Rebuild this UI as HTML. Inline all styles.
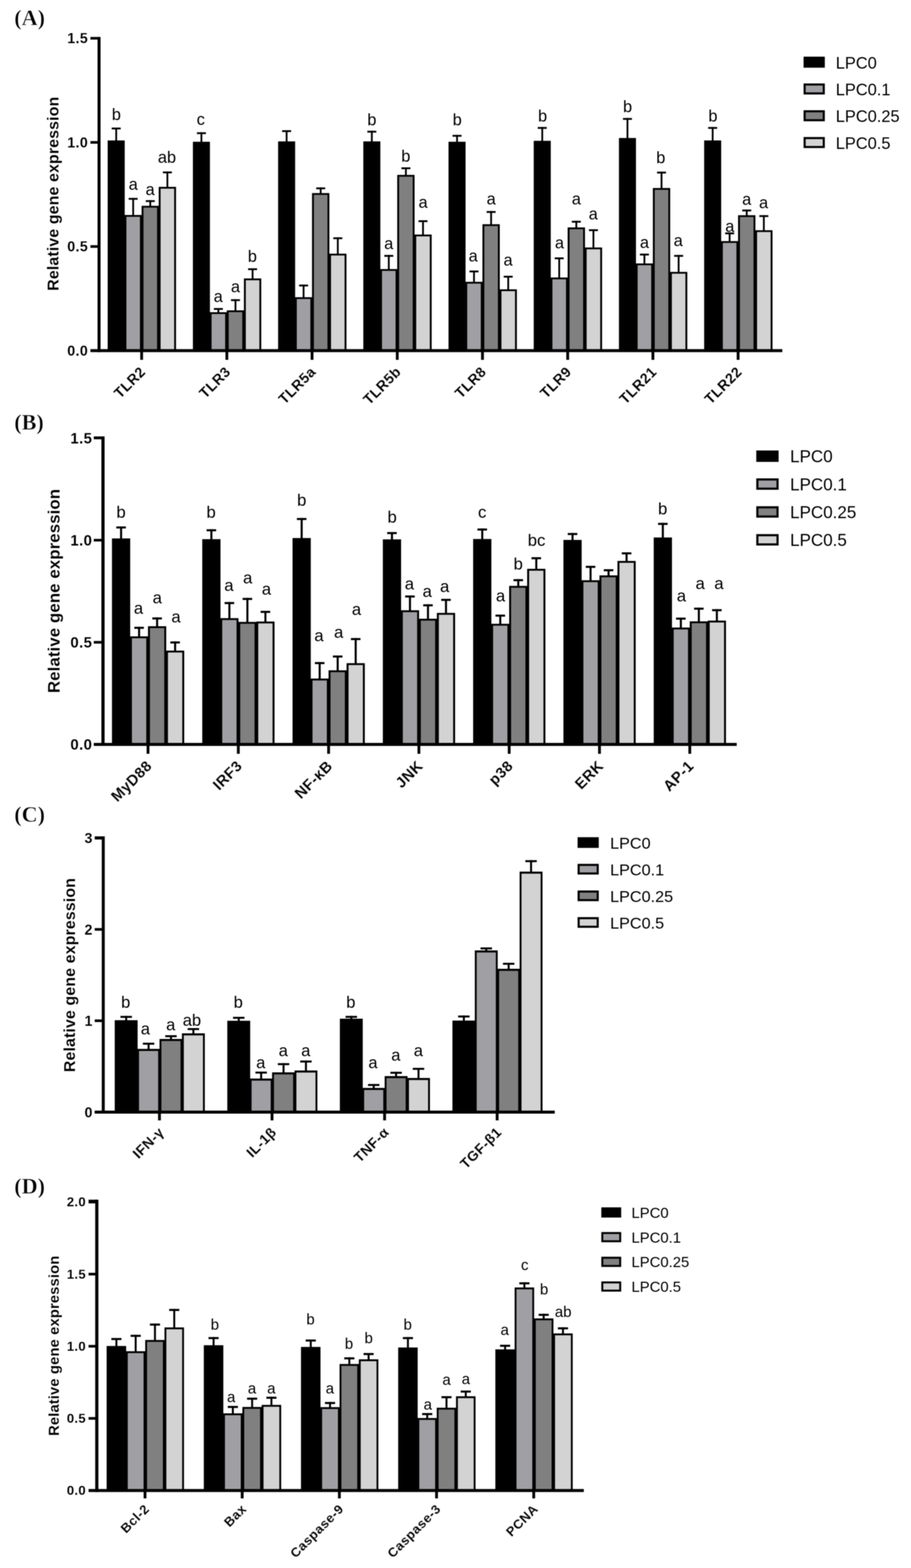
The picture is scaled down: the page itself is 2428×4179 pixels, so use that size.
<!DOCTYPE html>
<html lang="en">
<head>
<meta charset="utf-8">
<title>Relative gene expression - LPC panels A-D</title>
<style>
html,body{margin:0;padding:0;background:#fff;}
body{width:2428px;height:4179px;}
svg{display:block;}
.panel{filter:blur(0.8px);}
text{fill:#000;font-family:"Liberation Sans",sans-serif;}
.bold,.bold text{font-weight:700;stroke:#fff;stroke-width:0.25px;paint-order:fill stroke;}
.reg,.reg text{font-weight:400;stroke:none;}
.tag{font-family:"Liberation Serif",serif;font-weight:700;stroke:#fff;stroke-width:1px;paint-order:fill stroke;}
rect{fill:#000;}
rect.f1{fill:#a0a0a4;}
rect.f2{fill:#808080;}
rect.f3{fill:#d3d3d3;}
</style>
</head>
<body>
<svg width="2428" height="4179" viewBox="0 0 2428 4179">
<rect x="0" y="0" width="2428" height="4179" style="fill:#fff"/>
<g class="panel" id="panel-A">
<text class="tag" x="38" y="67" font-size="59">(A)</text>
<g class="bars">
<rect x="307.3" y="340" width="4.8" height="35.3"/>
<rect x="297.7" y="340" width="24" height="4.9"/>
<rect x="287" y="374.3" width="45.4" height="560.2"/>
<rect x="352.5" y="527.5" width="4.8" height="46.5"/>
<rect x="342.9" y="527.5" width="24" height="4.9"/>
<rect x="331.8" y="573" width="46.2" height="361.5"/>
<rect x="336.8" y="577.8" width="36.2" height="356.7" class="f1"/>
<rect x="398.1" y="533.5" width="4.8" height="16"/>
<rect x="388.5" y="533.5" width="24" height="4.9"/>
<rect x="377.4" y="548.5" width="46.2" height="386"/>
<rect x="382.4" y="553.3" width="36.2" height="381.2" class="f2"/>
<rect x="443.7" y="457" width="4.8" height="42"/>
<rect x="434.1" y="457" width="24" height="4.9"/>
<rect x="423" y="498" width="46.2" height="436.5"/>
<rect x="428" y="502.8" width="36.2" height="431.7" class="f3"/>
<rect x="534.4" y="352.5" width="4.8" height="26.3"/>
<rect x="524.8" y="352.5" width="24" height="4.9"/>
<rect x="514.1" y="377.8" width="45.4" height="556.7"/>
<rect x="579.6" y="821" width="4.8" height="12.1"/>
<rect x="570" y="821" width="24" height="4.9"/>
<rect x="558.9" y="832.1" width="46.2" height="102.4"/>
<rect x="563.9" y="836.9" width="36.2" height="97.6" class="f1"/>
<rect x="625.2" y="797.5" width="4.8" height="30.6"/>
<rect x="615.6" y="797.5" width="24" height="4.9"/>
<rect x="604.5" y="827.1" width="46.2" height="107.4"/>
<rect x="609.5" y="831.9" width="36.2" height="102.6" class="f2"/>
<rect x="670.8" y="715" width="4.8" height="28.1"/>
<rect x="661.2" y="715" width="24" height="4.9"/>
<rect x="650.1" y="742.1" width="46.2" height="192.4"/>
<rect x="655.1" y="746.9" width="36.2" height="187.6" class="f3"/>
<rect x="761.5" y="347" width="4.8" height="30.8"/>
<rect x="751.9" y="347" width="24" height="4.9"/>
<rect x="741.2" y="376.8" width="45.4" height="557.7"/>
<rect x="806.7" y="758.5" width="4.8" height="34.6"/>
<rect x="797.1" y="758.5" width="24" height="4.9"/>
<rect x="786" y="792.1" width="46.2" height="142.4"/>
<rect x="791" y="796.9" width="36.2" height="137.6" class="f1"/>
<rect x="852.3" y="499.5" width="4.8" height="16.1"/>
<rect x="842.7" y="499.5" width="24" height="4.9"/>
<rect x="831.6" y="514.6" width="46.2" height="419.9"/>
<rect x="836.6" y="519.4" width="36.2" height="415.1" class="f2"/>
<rect x="897.9" y="632.5" width="4.8" height="44.6"/>
<rect x="888.3" y="632.5" width="24" height="4.9"/>
<rect x="877.2" y="676.1" width="46.2" height="258.4"/>
<rect x="882.2" y="680.9" width="36.2" height="253.6" class="f3"/>
<rect x="988.6" y="348.5" width="4.8" height="29.3"/>
<rect x="979" y="348.5" width="24" height="4.9"/>
<rect x="968.3" y="376.8" width="45.4" height="557.7"/>
<rect x="1033.8" y="679.5" width="4.8" height="38.6"/>
<rect x="1024.2" y="679.5" width="24" height="4.9"/>
<rect x="1013.1" y="717.1" width="46.2" height="217.4"/>
<rect x="1018.1" y="721.9" width="36.2" height="212.6" class="f1"/>
<rect x="1079.4" y="446" width="4.8" height="21.1"/>
<rect x="1069.8" y="446" width="24" height="4.9"/>
<rect x="1058.7" y="466.1" width="46.2" height="468.4"/>
<rect x="1063.7" y="470.9" width="36.2" height="463.6" class="f2"/>
<rect x="1125" y="587" width="4.8" height="39.1"/>
<rect x="1115.4" y="587" width="24" height="4.9"/>
<rect x="1104.3" y="625.1" width="46.2" height="309.4"/>
<rect x="1109.3" y="629.9" width="36.2" height="304.6" class="f3"/>
<rect x="1215.7" y="359.5" width="4.8" height="19.3"/>
<rect x="1206.1" y="359.5" width="24" height="4.9"/>
<rect x="1195.4" y="377.8" width="45.4" height="556.7"/>
<rect x="1260.9" y="721" width="4.8" height="31.1"/>
<rect x="1251.3" y="721" width="24" height="4.9"/>
<rect x="1240.2" y="751.1" width="46.2" height="183.4"/>
<rect x="1245.2" y="755.9" width="36.2" height="178.6" class="f1"/>
<rect x="1306.5" y="562.5" width="4.8" height="36.1"/>
<rect x="1296.9" y="562.5" width="24" height="4.9"/>
<rect x="1285.8" y="597.6" width="46.2" height="336.9"/>
<rect x="1290.8" y="602.4" width="36.2" height="332.1" class="f2"/>
<rect x="1352.1" y="735" width="4.8" height="37.1"/>
<rect x="1342.5" y="735" width="24" height="4.9"/>
<rect x="1331.4" y="771.1" width="46.2" height="163.4"/>
<rect x="1336.4" y="775.9" width="36.2" height="158.6" class="f3"/>
<rect x="1442.8" y="338.5" width="4.8" height="37.8"/>
<rect x="1433.2" y="338.5" width="24" height="4.9"/>
<rect x="1422.5" y="375.3" width="45.4" height="559.2"/>
<rect x="1488" y="686" width="4.8" height="54.6"/>
<rect x="1478.4" y="686" width="24" height="4.9"/>
<rect x="1467.3" y="739.6" width="46.2" height="194.9"/>
<rect x="1472.3" y="744.4" width="36.2" height="190.1" class="f1"/>
<rect x="1533.6" y="588.5" width="4.8" height="18.6"/>
<rect x="1524" y="588.5" width="24" height="4.9"/>
<rect x="1512.9" y="606.1" width="46.2" height="328.4"/>
<rect x="1517.9" y="610.9" width="36.2" height="323.6" class="f2"/>
<rect x="1579.2" y="611" width="4.8" height="49.6"/>
<rect x="1569.6" y="611" width="24" height="4.9"/>
<rect x="1558.5" y="659.6" width="46.2" height="274.9"/>
<rect x="1563.5" y="664.4" width="36.2" height="270.1" class="f3"/>
<rect x="1669.9" y="314.5" width="4.8" height="54.3"/>
<rect x="1660.3" y="314.5" width="24" height="4.9"/>
<rect x="1649.6" y="367.8" width="45.4" height="566.7"/>
<rect x="1715.1" y="676" width="4.8" height="27.1"/>
<rect x="1705.5" y="676" width="24" height="4.9"/>
<rect x="1694.4" y="702.1" width="46.2" height="232.4"/>
<rect x="1699.4" y="706.9" width="36.2" height="227.6" class="f1"/>
<rect x="1760.7" y="457.5" width="4.8" height="44.6"/>
<rect x="1751.1" y="457.5" width="24" height="4.9"/>
<rect x="1740" y="501.1" width="46.2" height="433.4"/>
<rect x="1745" y="505.9" width="36.2" height="428.6" class="f2"/>
<rect x="1806.3" y="679.5" width="4.8" height="46.1"/>
<rect x="1796.7" y="679.5" width="24" height="4.9"/>
<rect x="1785.6" y="724.6" width="46.2" height="209.9"/>
<rect x="1790.6" y="729.4" width="36.2" height="205.1" class="f3"/>
<rect x="1897" y="338.5" width="4.8" height="36.8"/>
<rect x="1887.4" y="338.5" width="24" height="4.9"/>
<rect x="1876.7" y="374.3" width="45.4" height="560.2"/>
<rect x="1942.2" y="619.5" width="4.8" height="24.1"/>
<rect x="1932.6" y="619.5" width="24" height="4.9"/>
<rect x="1921.5" y="642.6" width="46.2" height="291.9"/>
<rect x="1926.5" y="647.4" width="36.2" height="287.1" class="f1"/>
<rect x="1987.8" y="558.5" width="4.8" height="16.1"/>
<rect x="1978.2" y="558.5" width="24" height="4.9"/>
<rect x="1967.1" y="573.6" width="46.2" height="360.9"/>
<rect x="1972.1" y="578.4" width="36.2" height="356.1" class="f2"/>
<rect x="2033.4" y="573.5" width="4.8" height="41.1"/>
<rect x="2023.8" y="573.5" width="24" height="4.9"/>
<rect x="2012.7" y="613.6" width="46.2" height="320.9"/>
<rect x="2017.7" y="618.4" width="36.2" height="316.1" class="f3"/>
</g>
<g class="axes">
<rect x="260" y="98.5" width="8" height="840"/>
<rect x="241" y="930.5" width="1844" height="8"/>
<rect x="241" y="931" width="23" height="7"/>
<rect x="241" y="653.5" width="23" height="7"/>
<rect x="241" y="376" width="23" height="7"/>
<rect x="241" y="98.5" width="23" height="7"/>
<rect x="373.75" y="934.5" width="7.5" height="24.5"/>
<rect x="600.85" y="934.5" width="7.5" height="24.5"/>
<rect x="827.95" y="934.5" width="7.5" height="24.5"/>
<rect x="1055.05" y="934.5" width="7.5" height="24.5"/>
<rect x="1282.15" y="934.5" width="7.5" height="24.5"/>
<rect x="1509.25" y="934.5" width="7.5" height="24.5"/>
<rect x="1736.35" y="934.5" width="7.5" height="24.5"/>
<rect x="1963.45" y="934.5" width="7.5" height="24.5"/>
</g>
<g class="bold" font-size="38" text-anchor="end" letter-spacing="1">
<text x="235" y="947.5">0.0</text>
<text x="235" y="670">0.5</text>
<text x="235" y="392.5">1.0</text>
<text x="235" y="115">1.5</text>
</g>
<text class="bold" font-size="42.5" text-anchor="middle" letter-spacing="0.3" transform="translate(155.5 516.3) rotate(-90)">Relative gene expression</text>
<g class="bold xl" font-size="38" text-anchor="end" letter-spacing="1">
<text transform="translate(390 993.5) rotate(-45)">TLR2</text>
<text transform="translate(617.1 993.5) rotate(-45)">TLR3</text>
<text transform="translate(844.2 993.5) rotate(-45)">TLR5a</text>
<text transform="translate(1071.3 993.5) rotate(-45)">TLR5b</text>
<text transform="translate(1298.4 993.5) rotate(-45)">TLR8</text>
<text transform="translate(1525.5 993.5) rotate(-45)">TLR9</text>
<text transform="translate(1752.6 993.5) rotate(-45)">TLR21</text>
<text transform="translate(1979.7 993.5) rotate(-45)">TLR22</text>
</g>
<g class="reg" font-size="43.5" text-anchor="middle">
<text x="310" y="320">b</text>
<text x="355" y="505.5">a</text>
<text x="400" y="520">a</text>
<text x="445" y="434">ab</text>
<text x="535" y="332.5">c</text>
<text x="581.5" y="805">a</text>
<text x="627.5" y="778.5">a</text>
<text x="672.5" y="697.5">b</text>
<text x="991" y="333.5">b</text>
<text x="1036" y="663.5">a</text>
<text x="1081.5" y="431">b</text>
<text x="1127.5" y="554">a</text>
<text x="1218.5" y="333.5">b</text>
<text x="1261" y="696.5">a</text>
<text x="1309" y="545">a</text>
<text x="1354" y="707.5">a</text>
<text x="1446" y="324">b</text>
<text x="1491" y="661.5">a</text>
<text x="1536" y="545">a</text>
<text x="1581" y="585">a</text>
<text x="1672.5" y="298.5">b</text>
<text x="1717.5" y="661">a</text>
<text x="1761" y="435">b</text>
<text x="1807.5" y="656">a</text>
<text x="1900" y="323.5">b</text>
<text x="1945" y="617.5">a</text>
<text x="1990" y="546">a</text>
<text x="2035" y="555">a</text>
</g>
<g class="legend reg" font-size="43.7">
<rect x="2141.7" y="151" width="56.6" height="29.4"/>
<text x="2227.5" y="182.5">LPC0</text>
<rect x="2141.7" y="222.4" width="56.6" height="29.4"/>
<rect x="2147.3" y="228" width="45.4" height="18.2" class="f1"/>
<text x="2227.5" y="253.9">LPC0.1</text>
<rect x="2141.7" y="293.8" width="56.6" height="29.4"/>
<rect x="2147.3" y="299.4" width="45.4" height="18.2" class="f2"/>
<text x="2227.5" y="325.3">LPC0.25</text>
<rect x="2141.7" y="365.2" width="56.6" height="29.4"/>
<rect x="2147.3" y="370.8" width="45.4" height="18.2" class="f3"/>
<text x="2227.5" y="396.7">LPC0.5</text>
</g>
</g>
<g class="panel" id="panel-B">
<text class="tag" x="38" y="1145" font-size="59">(B)</text>
<g class="bars">
<rect x="319.95" y="1403" width="5.5" height="33"/>
<rect x="309.95" y="1403" width="25.5" height="5.5"/>
<rect x="298.4" y="1435" width="48.6" height="549"/>
<rect x="367.95" y="1670.5" width="5.5" height="26.5"/>
<rect x="357.95" y="1670.5" width="25.5" height="5.5"/>
<rect x="346.4" y="1696" width="48.6" height="288"/>
<rect x="351.6" y="1701" width="38.2" height="283" class="f1"/>
<rect x="415.95" y="1645.5" width="5.5" height="24.5"/>
<rect x="405.95" y="1645.5" width="25.5" height="5.5"/>
<rect x="394.4" y="1669" width="48.6" height="315"/>
<rect x="399.6" y="1674" width="38.2" height="310" class="f2"/>
<rect x="463.95" y="1709.5" width="5.5" height="25.5"/>
<rect x="453.95" y="1709.5" width="25.5" height="5.5"/>
<rect x="442.4" y="1734" width="48.6" height="250"/>
<rect x="447.6" y="1739" width="38.2" height="245" class="f3"/>
<rect x="560.6" y="1410.5" width="5.5" height="27.5"/>
<rect x="550.6" y="1410.5" width="25.5" height="5.5"/>
<rect x="539.05" y="1437" width="48.6" height="547"/>
<rect x="608.6" y="1604.5" width="5.5" height="44"/>
<rect x="598.6" y="1604.5" width="25.5" height="5.5"/>
<rect x="587.05" y="1647.5" width="48.6" height="336.5"/>
<rect x="592.25" y="1652.5" width="38.2" height="331.5" class="f1"/>
<rect x="656.6" y="1593.5" width="5.5" height="65"/>
<rect x="646.6" y="1593.5" width="25.5" height="5.5"/>
<rect x="635.05" y="1657.5" width="48.6" height="326.5"/>
<rect x="640.25" y="1662.5" width="38.2" height="321.5" class="f2"/>
<rect x="704.6" y="1628" width="5.5" height="29.5"/>
<rect x="694.6" y="1628" width="25.5" height="5.5"/>
<rect x="683.05" y="1656.5" width="48.6" height="327.5"/>
<rect x="688.25" y="1661.5" width="38.2" height="322.5" class="f3"/>
<rect x="801.25" y="1380.5" width="5.5" height="54.5"/>
<rect x="791.25" y="1380.5" width="25.5" height="5.5"/>
<rect x="779.7" y="1434" width="48.6" height="550"/>
<rect x="849.25" y="1764.5" width="5.5" height="45"/>
<rect x="839.25" y="1764.5" width="25.5" height="5.5"/>
<rect x="827.7" y="1808.5" width="48.6" height="175.5"/>
<rect x="832.9" y="1813.5" width="38.2" height="170.5" class="f1"/>
<rect x="897.25" y="1747" width="5.5" height="40.5"/>
<rect x="887.25" y="1747" width="25.5" height="5.5"/>
<rect x="875.7" y="1786.5" width="48.6" height="197.5"/>
<rect x="880.9" y="1791.5" width="38.2" height="192.5" class="f2"/>
<rect x="945.25" y="1700.5" width="5.5" height="68"/>
<rect x="935.25" y="1700.5" width="25.5" height="5.5"/>
<rect x="923.7" y="1767.5" width="48.6" height="216.5"/>
<rect x="928.9" y="1772.5" width="38.2" height="211.5" class="f3"/>
<rect x="1041.9" y="1418" width="5.5" height="20.5"/>
<rect x="1031.9" y="1418" width="25.5" height="5.5"/>
<rect x="1020.35" y="1437.5" width="48.6" height="546.5"/>
<rect x="1089.9" y="1587" width="5.5" height="40.5"/>
<rect x="1079.9" y="1587" width="25.5" height="5.5"/>
<rect x="1068.35" y="1626.5" width="48.6" height="357.5"/>
<rect x="1073.55" y="1631.5" width="38.2" height="352.5" class="f1"/>
<rect x="1137.9" y="1610.5" width="5.5" height="39.5"/>
<rect x="1127.9" y="1610.5" width="25.5" height="5.5"/>
<rect x="1116.35" y="1649" width="48.6" height="335"/>
<rect x="1121.55" y="1654" width="38.2" height="330" class="f2"/>
<rect x="1185.9" y="1596" width="5.5" height="38.5"/>
<rect x="1175.9" y="1596" width="25.5" height="5.5"/>
<rect x="1164.35" y="1633.5" width="48.6" height="350.5"/>
<rect x="1169.55" y="1638.5" width="38.2" height="345.5" class="f3"/>
<rect x="1282.55" y="1408.5" width="5.5" height="29"/>
<rect x="1272.55" y="1408.5" width="25.5" height="5.5"/>
<rect x="1261" y="1436.5" width="48.6" height="547.5"/>
<rect x="1330.55" y="1638" width="5.5" height="25.5"/>
<rect x="1320.55" y="1638" width="25.5" height="5.5"/>
<rect x="1309" y="1662.5" width="48.6" height="321.5"/>
<rect x="1314.2" y="1667.5" width="38.2" height="316.5" class="f1"/>
<rect x="1378.55" y="1543.5" width="5.5" height="19"/>
<rect x="1368.55" y="1543.5" width="25.5" height="5.5"/>
<rect x="1357" y="1561.5" width="48.6" height="422.5"/>
<rect x="1362.2" y="1566.5" width="38.2" height="417.5" class="f2"/>
<rect x="1426.55" y="1485" width="5.5" height="32"/>
<rect x="1416.55" y="1485" width="25.5" height="5.5"/>
<rect x="1405" y="1516" width="48.6" height="468"/>
<rect x="1410.2" y="1521" width="38.2" height="463" class="f3"/>
<rect x="1523.2" y="1420.5" width="5.5" height="19.5"/>
<rect x="1513.2" y="1420.5" width="25.5" height="5.5"/>
<rect x="1501.65" y="1439" width="48.6" height="545"/>
<rect x="1571.2" y="1508" width="5.5" height="39.5"/>
<rect x="1561.2" y="1508" width="25.5" height="5.5"/>
<rect x="1549.65" y="1546.5" width="48.6" height="437.5"/>
<rect x="1554.85" y="1551.5" width="38.2" height="432.5" class="f1"/>
<rect x="1619.2" y="1517" width="5.5" height="17.5"/>
<rect x="1609.2" y="1517" width="25.5" height="5.5"/>
<rect x="1597.65" y="1533.5" width="48.6" height="450.5"/>
<rect x="1602.85" y="1538.5" width="38.2" height="445.5" class="f2"/>
<rect x="1667.2" y="1472" width="5.5" height="24"/>
<rect x="1657.2" y="1472" width="25.5" height="5.5"/>
<rect x="1645.65" y="1495" width="48.6" height="489"/>
<rect x="1650.85" y="1500" width="38.2" height="484" class="f3"/>
<rect x="1763.85" y="1393.5" width="5.5" height="40"/>
<rect x="1753.85" y="1393.5" width="25.5" height="5.5"/>
<rect x="1742.3" y="1432.5" width="48.6" height="551.5"/>
<rect x="1811.85" y="1646" width="5.5" height="27.5"/>
<rect x="1801.85" y="1646" width="25.5" height="5.5"/>
<rect x="1790.3" y="1672.5" width="48.6" height="311.5"/>
<rect x="1795.5" y="1677.5" width="38.2" height="306.5" class="f1"/>
<rect x="1859.85" y="1619.5" width="5.5" height="37.5"/>
<rect x="1849.85" y="1619.5" width="25.5" height="5.5"/>
<rect x="1838.3" y="1656" width="48.6" height="328"/>
<rect x="1843.5" y="1661" width="38.2" height="323" class="f2"/>
<rect x="1907.85" y="1623.5" width="5.5" height="31.5"/>
<rect x="1897.85" y="1623.5" width="25.5" height="5.5"/>
<rect x="1886.3" y="1654" width="48.6" height="330"/>
<rect x="1891.5" y="1659" width="38.2" height="325" class="f3"/>
</g>
<g class="axes">
<rect x="270.25" y="1163.15" width="8.5" height="824.85"/>
<rect x="250" y="1980" width="1713.5" height="8"/>
<rect x="250" y="1980.5" width="24.5" height="7"/>
<rect x="250" y="1708.35" width="24.5" height="7"/>
<rect x="250" y="1436.2" width="24.5" height="7"/>
<rect x="250" y="1163.15" width="24.5" height="7.6"/>
<rect x="390.75" y="1984" width="7.5" height="25"/>
<rect x="631.4" y="1984" width="7.5" height="25"/>
<rect x="872.05" y="1984" width="7.5" height="25"/>
<rect x="1112.7" y="1984" width="7.5" height="25"/>
<rect x="1353.35" y="1984" width="7.5" height="25"/>
<rect x="1594" y="1984" width="7.5" height="25"/>
<rect x="1834.65" y="1984" width="7.5" height="25"/>
</g>
<g class="bold" font-size="40" text-anchor="end" letter-spacing="1">
<text x="246" y="1998.3">0.0</text>
<text x="246" y="1726.15">0.5</text>
<text x="246" y="1454">1.0</text>
<text x="246" y="1181.85">1.5</text>
</g>
<text class="bold" font-size="44.7" text-anchor="middle" letter-spacing="0.32" transform="translate(158.5 1575) rotate(-90)">Relative gene expression</text>
<g class="bold xl" font-size="40" text-anchor="end" letter-spacing="1">
<text transform="translate(407.5 2044) rotate(-45)">MyD88</text>
<text transform="translate(648.15 2044) rotate(-45)">IRF3</text>
<text transform="translate(888.8 2044) rotate(-45)">NF-κB</text>
<text transform="translate(1129.45 2044) rotate(-45)">JNK</text>
<text transform="translate(1370.1 2044) rotate(-45)">p38</text>
<text transform="translate(1610.75 2044) rotate(-45)">ERK</text>
<text transform="translate(1851.4 2044) rotate(-45)">AP-1</text>
</g>
<g class="reg" font-size="44.5" text-anchor="middle">
<text x="322.5" y="1380">b</text>
<text x="369" y="1636">a</text>
<text x="419" y="1607.5">a</text>
<text x="469" y="1659">a</text>
<text x="562.5" y="1380">b</text>
<text x="610" y="1575">a</text>
<text x="660" y="1555">a</text>
<text x="710" y="1585">a</text>
<text x="804" y="1347.5">b</text>
<text x="850" y="1709">a</text>
<text x="902.5" y="1700">a</text>
<text x="950" y="1639">a</text>
<text x="1045" y="1392.5">b</text>
<text x="1091" y="1571">a</text>
<text x="1138.5" y="1591">a</text>
<text x="1185" y="1577.5">a</text>
<text x="1285" y="1380">c</text>
<text x="1334" y="1602.5">a</text>
<text x="1381" y="1517.5">b</text>
<text x="1430" y="1455">bc</text>
<text x="1766" y="1371">b</text>
<text x="1816" y="1602.5">a</text>
<text x="1866" y="1570">a</text>
<text x="1916" y="1570">a</text>
</g>
<g class="legend reg" font-size="45.3">
<rect x="2015.6" y="1200.6" width="59.6" height="30.4"/>
<text x="2105.8" y="1232.3">LPC0</text>
<rect x="2015.6" y="1274.9" width="59.6" height="30.4"/>
<rect x="2021.4" y="1280.7" width="48" height="18.8" class="f1"/>
<text x="2105.8" y="1306.6">LPC0.1</text>
<rect x="2015.6" y="1349.2" width="59.6" height="30.4"/>
<rect x="2021.4" y="1355" width="48" height="18.8" class="f2"/>
<text x="2105.8" y="1380.9">LPC0.25</text>
<rect x="2015.6" y="1423.5" width="59.6" height="30.4"/>
<rect x="2021.4" y="1429.3" width="48" height="18.8" class="f3"/>
<text x="2105.8" y="1455.2">LPC0.5</text>
</g>
</g>
<g class="panel" id="panel-C">
<text class="tag" x="38" y="2190" font-size="59">(C)</text>
<g class="bars">
<rect x="333.65" y="2707.5" width="5.3" height="12.5"/>
<rect x="321.05" y="2707.5" width="30.5" height="5.3"/>
<rect x="305.8" y="2719" width="61" height="245"/>
<rect x="393.35" y="2779" width="5.3" height="17.5"/>
<rect x="380.75" y="2779" width="30.5" height="5.3"/>
<rect x="365.5" y="2795.5" width="61" height="168.5"/>
<rect x="370.5" y="2801" width="51" height="163" class="f1"/>
<rect x="453.05" y="2759" width="5.3" height="11"/>
<rect x="440.45" y="2759" width="30.5" height="5.3"/>
<rect x="425.2" y="2769" width="61" height="195"/>
<rect x="430.2" y="2774.5" width="51" height="189.5" class="f2"/>
<rect x="512.75" y="2740" width="5.3" height="15"/>
<rect x="500.15" y="2740" width="30.5" height="5.3"/>
<rect x="484.9" y="2754" width="61" height="210"/>
<rect x="489.9" y="2759.5" width="51" height="204.5" class="f3"/>
<rect x="633.65" y="2710" width="5.3" height="11.5"/>
<rect x="621.05" y="2710" width="30.5" height="5.3"/>
<rect x="605.8" y="2720.5" width="61" height="243.5"/>
<rect x="693.35" y="2856" width="5.3" height="19.5"/>
<rect x="680.75" y="2856" width="30.5" height="5.3"/>
<rect x="665.5" y="2874.5" width="61" height="89.5"/>
<rect x="670.5" y="2880" width="51" height="84" class="f1"/>
<rect x="753.05" y="2833.5" width="5.3" height="25.5"/>
<rect x="740.45" y="2833.5" width="30.5" height="5.3"/>
<rect x="725.2" y="2858" width="61" height="106"/>
<rect x="730.2" y="2863.5" width="51" height="100.5" class="f2"/>
<rect x="812.75" y="2826.5" width="5.3" height="27.5"/>
<rect x="800.15" y="2826.5" width="30.5" height="5.3"/>
<rect x="784.9" y="2853" width="61" height="111"/>
<rect x="789.9" y="2858.5" width="51" height="105.5" class="f3"/>
<rect x="933.65" y="2707.5" width="5.3" height="8.5"/>
<rect x="921.05" y="2707.5" width="30.5" height="5.3"/>
<rect x="905.8" y="2715" width="61" height="249"/>
<rect x="993.35" y="2889" width="5.3" height="11.5"/>
<rect x="980.75" y="2889" width="30.5" height="5.3"/>
<rect x="965.5" y="2899.5" width="61" height="64.5"/>
<rect x="970.5" y="2905" width="51" height="59" class="f1"/>
<rect x="1053.05" y="2856.5" width="5.3" height="12.5"/>
<rect x="1040.45" y="2856.5" width="30.5" height="5.3"/>
<rect x="1025.2" y="2868" width="61" height="96"/>
<rect x="1030.2" y="2873.5" width="51" height="90.5" class="f2"/>
<rect x="1112.75" y="2846" width="5.3" height="28"/>
<rect x="1100.15" y="2846" width="30.5" height="5.3"/>
<rect x="1084.9" y="2873" width="61" height="91"/>
<rect x="1089.9" y="2878.5" width="51" height="85.5" class="f3"/>
<rect x="1233.65" y="2706.5" width="5.3" height="14.5"/>
<rect x="1221.05" y="2706.5" width="30.5" height="5.3"/>
<rect x="1205.8" y="2720" width="61" height="244"/>
<rect x="1293.35" y="2525" width="5.3" height="9"/>
<rect x="1280.75" y="2525" width="30.5" height="5.3"/>
<rect x="1265.5" y="2533" width="61" height="431"/>
<rect x="1270.5" y="2538.5" width="51" height="425.5" class="f1"/>
<rect x="1353.05" y="2566" width="5.3" height="17"/>
<rect x="1340.45" y="2566" width="30.5" height="5.3"/>
<rect x="1325.2" y="2582" width="61" height="382"/>
<rect x="1330.2" y="2587.5" width="51" height="376.5" class="f2"/>
<rect x="1412.75" y="2292.5" width="5.3" height="31.5"/>
<rect x="1400.15" y="2292.5" width="30.5" height="5.3"/>
<rect x="1384.9" y="2323" width="61" height="641"/>
<rect x="1389.9" y="2328.5" width="51" height="635.5" class="f3"/>
</g>
<g class="axes">
<rect x="271.2" y="2229" width="8" height="739"/>
<rect x="252.5" y="2960" width="1226" height="8"/>
<rect x="252.5" y="2960.5" width="22.7" height="7"/>
<rect x="252.5" y="2717" width="22.7" height="7"/>
<rect x="252.5" y="2473.5" width="22.7" height="7"/>
<rect x="252.5" y="2229" width="22.7" height="8.4"/>
<rect x="421.25" y="2964" width="7.5" height="22"/>
<rect x="721.25" y="2964" width="7.5" height="22"/>
<rect x="1021.25" y="2964" width="7.5" height="22"/>
<rect x="1321.25" y="2964" width="7.5" height="22"/>
</g>
<g class="bold" font-size="38" text-anchor="end" letter-spacing="1">
<text x="247.5" y="2977.6">0</text>
<text x="247.5" y="2734.1">1</text>
<text x="247.5" y="2490.6">2</text>
<text x="247.5" y="2247.1">3</text>
</g>
<text class="bold" font-size="42.5" text-anchor="middle" letter-spacing="0.3" transform="translate(200 2598.75) rotate(-90)">Relative gene expression</text>
<g class="bold xl" font-size="37.5" text-anchor="end" letter-spacing="1">
<text transform="translate(439 3020) rotate(-45)">IFN-γ</text>
<text transform="translate(739 3020) rotate(-45)">IL-1β</text>
<text transform="translate(1039 3020) rotate(-45)">TNF-α</text>
<text transform="translate(1339 3020) rotate(-45)">TGF-β1</text>
</g>
<g class="reg" font-size="44" text-anchor="middle">
<text x="335" y="2685.8">b</text>
<text x="387.5" y="2756.8">a</text>
<text x="455" y="2745.8">a</text>
<text x="511.5" y="2734.3">ab</text>
<text x="635" y="2685.8">b</text>
<text x="695" y="2846.8">a</text>
<text x="755" y="2815.3">a</text>
<text x="815" y="2815.3">a</text>
<text x="935" y="2685.8">b</text>
<text x="994" y="2846.8">a</text>
<text x="1055" y="2826.8">a</text>
<text x="1115" y="2815.3">a</text>
</g>
<g class="legend reg" font-size="43.2">
<rect x="1539.4" y="2231.3" width="56.4" height="28.5"/>
<text x="1626" y="2261.5">LPC0</text>
<rect x="1539.4" y="2302.3" width="56.4" height="28.5"/>
<rect x="1545" y="2307.9" width="45.2" height="17.3" class="f1"/>
<text x="1626" y="2332.5">LPC0.1</text>
<rect x="1539.4" y="2373.3" width="56.4" height="28.5"/>
<rect x="1545" y="2378.9" width="45.2" height="17.3" class="f2"/>
<text x="1626" y="2403.5">LPC0.25</text>
<rect x="1539.4" y="2444.3" width="56.4" height="28.5"/>
<rect x="1545" y="2449.9" width="45.2" height="17.3" class="f3"/>
<text x="1626" y="2474.5">LPC0.5</text>
</g>
</g>
<g class="panel" id="panel-D">
<text class="tag" x="38" y="3181" font-size="59">(D)</text>
<g class="bars">
<rect x="307.6" y="3566" width="5.2" height="22.3"/>
<rect x="296.7" y="3566" width="27" height="5.5"/>
<rect x="284.2" y="3587.3" width="52" height="385.2"/>
<rect x="359" y="3557.5" width="5.2" height="44.8"/>
<rect x="348.1" y="3557.5" width="27" height="5.5"/>
<rect x="335.6" y="3601.3" width="52" height="371.2"/>
<rect x="340.5" y="3606.3" width="42.2" height="366.2" class="f1"/>
<rect x="410.4" y="3527.5" width="5.2" height="44.8"/>
<rect x="399.5" y="3527.5" width="27" height="5.5"/>
<rect x="387" y="3571.3" width="52" height="401.2"/>
<rect x="391.9" y="3576.3" width="42.2" height="396.2" class="f2"/>
<rect x="461.8" y="3488.5" width="5.2" height="50.3"/>
<rect x="450.9" y="3488.5" width="27" height="5.5"/>
<rect x="438.4" y="3537.8" width="52" height="434.7"/>
<rect x="443.3" y="3542.8" width="42.2" height="429.7" class="f3"/>
<rect x="566.6" y="3563.5" width="5.2" height="22.8"/>
<rect x="555.7" y="3563.5" width="27" height="5.5"/>
<rect x="543.2" y="3585.3" width="52" height="387.2"/>
<rect x="618" y="3747" width="5.2" height="20.8"/>
<rect x="607.1" y="3747" width="27" height="5.5"/>
<rect x="594.6" y="3766.8" width="52" height="205.7"/>
<rect x="599.5" y="3771.8" width="42.2" height="200.7" class="f1"/>
<rect x="669.4" y="3725" width="5.2" height="25.8"/>
<rect x="658.5" y="3725" width="27" height="5.5"/>
<rect x="646" y="3749.8" width="52" height="222.7"/>
<rect x="650.9" y="3754.8" width="42.2" height="217.7" class="f2"/>
<rect x="720.8" y="3722.5" width="5.2" height="22.8"/>
<rect x="709.9" y="3722.5" width="27" height="5.5"/>
<rect x="697.4" y="3744.3" width="52" height="228.2"/>
<rect x="702.3" y="3749.3" width="42.2" height="223.2" class="f3"/>
<rect x="825.6" y="3570" width="5.2" height="20.8"/>
<rect x="814.7" y="3570" width="27" height="5.5"/>
<rect x="802.2" y="3589.8" width="52" height="382.7"/>
<rect x="877" y="3736.5" width="5.2" height="14.8"/>
<rect x="866.1" y="3736.5" width="27" height="5.5"/>
<rect x="853.6" y="3750.3" width="52" height="222.2"/>
<rect x="858.5" y="3755.3" width="42.2" height="217.2" class="f1"/>
<rect x="928.4" y="3617.5" width="5.2" height="18.8"/>
<rect x="917.5" y="3617.5" width="27" height="5.5"/>
<rect x="905" y="3635.3" width="52" height="337.2"/>
<rect x="909.9" y="3640.3" width="42.2" height="332.2" class="f2"/>
<rect x="979.8" y="3606" width="5.2" height="17.8"/>
<rect x="968.9" y="3606" width="27" height="5.5"/>
<rect x="956.4" y="3622.8" width="52" height="349.7"/>
<rect x="961.3" y="3627.8" width="42.2" height="344.7" class="f3"/>
<rect x="1084.6" y="3563.5" width="5.2" height="28.8"/>
<rect x="1073.7" y="3563.5" width="27" height="5.5"/>
<rect x="1061.2" y="3591.3" width="52" height="381.2"/>
<rect x="1136" y="3766" width="5.2" height="14.3"/>
<rect x="1125.1" y="3766" width="27" height="5.5"/>
<rect x="1112.6" y="3779.3" width="52" height="193.2"/>
<rect x="1117.5" y="3784.3" width="42.2" height="188.2" class="f1"/>
<rect x="1187.4" y="3721" width="5.2" height="31.8"/>
<rect x="1176.5" y="3721" width="27" height="5.5"/>
<rect x="1164" y="3751.8" width="52" height="220.7"/>
<rect x="1168.9" y="3756.8" width="42.2" height="215.7" class="f2"/>
<rect x="1238.8" y="3706" width="5.2" height="16.3"/>
<rect x="1227.9" y="3706" width="27" height="5.5"/>
<rect x="1215.4" y="3721.3" width="52" height="251.2"/>
<rect x="1220.3" y="3726.3" width="42.2" height="246.2" class="f3"/>
<rect x="1343.6" y="3584" width="5.2" height="13.3"/>
<rect x="1332.7" y="3584" width="27" height="5.5"/>
<rect x="1320.2" y="3596.3" width="52" height="376.2"/>
<rect x="1395" y="3417.5" width="5.2" height="14.8"/>
<rect x="1384.1" y="3417.5" width="27" height="5.5"/>
<rect x="1371.6" y="3431.3" width="52" height="541.2"/>
<rect x="1376.5" y="3436.3" width="42.2" height="536.2" class="f1"/>
<rect x="1446.4" y="3501.5" width="5.2" height="13.3"/>
<rect x="1435.5" y="3501.5" width="27" height="5.5"/>
<rect x="1423" y="3513.8" width="52" height="458.7"/>
<rect x="1427.9" y="3518.8" width="42.2" height="453.7" class="f2"/>
<rect x="1497.8" y="3537.5" width="5.2" height="17.3"/>
<rect x="1486.9" y="3537.5" width="27" height="5.5"/>
<rect x="1474.4" y="3553.8" width="52" height="418.7"/>
<rect x="1479.3" y="3558.8" width="42.2" height="413.7" class="f3"/>
</g>
<g class="axes">
<rect x="253.75" y="3197.4" width="8.5" height="779.1"/>
<rect x="236" y="3968.5" width="1320" height="8"/>
<rect x="236" y="3969" width="22" height="7"/>
<rect x="236" y="3776.75" width="22" height="7"/>
<rect x="236" y="3584.5" width="22" height="7"/>
<rect x="236" y="3392.25" width="22" height="7"/>
<rect x="236" y="3197.4" width="22" height="9.8"/>
<rect x="382.75" y="3972.5" width="7.5" height="21"/>
<rect x="641.75" y="3972.5" width="7.5" height="21"/>
<rect x="900.75" y="3972.5" width="7.5" height="21"/>
<rect x="1159.75" y="3972.5" width="7.5" height="21"/>
<rect x="1418.75" y="3972.5" width="7.5" height="21"/>
</g>
<g class="bold" font-size="35.2" text-anchor="end" letter-spacing="0.7">
<text x="229" y="3984.3">0.0</text>
<text x="229" y="3792.05">0.5</text>
<text x="229" y="3599.8">1.0</text>
<text x="229" y="3407.55">1.5</text>
<text x="229" y="3215.3">2.0</text>
</g>
<text class="bold" font-size="39.5" text-anchor="middle" letter-spacing="0.27" transform="translate(157 3586.75) rotate(-90)">Relative gene expression</text>
<g class="bold xl" font-size="35" text-anchor="end" letter-spacing="1">
<text transform="translate(400 4024) rotate(-45)">Bcl-2</text>
<text transform="translate(659 4024) rotate(-45)">Bax</text>
<text transform="translate(918 4024) rotate(-45)">Caspase-9</text>
<text transform="translate(1177 4024) rotate(-45)">Caspase-3</text>
<text transform="translate(1436 4024) rotate(-45)">PCNA</text>
</g>
<g class="reg" font-size="40" text-anchor="middle">
<text x="572.5" y="3544">b</text>
<text x="616" y="3736.5">a</text>
<text x="671.5" y="3713.5">a</text>
<text x="723" y="3713.5">a</text>
<text x="827.5" y="3530">b</text>
<text x="879" y="3713.5">a</text>
<text x="930" y="3595">b</text>
<text x="982.5" y="3580">b</text>
<text x="1086.5" y="3543.5">b</text>
<text x="1140" y="3756.5">a</text>
<text x="1190" y="3691">a</text>
<text x="1241.5" y="3689">a</text>
<text x="1345" y="3557.5">a</text>
<text x="1398.5" y="3385">c</text>
<text x="1450" y="3450">b</text>
<text x="1501" y="3510">ab</text>
</g>
<g class="legend reg" font-size="39.6">
<rect x="1602.6" y="3217.8" width="53" height="27.2"/>
<text x="1683" y="3245.7">LPC0</text>
<rect x="1602.6" y="3283.6" width="53" height="27.2"/>
<rect x="1607.9" y="3288.9" width="42.4" height="16.6" class="f1"/>
<text x="1683" y="3311.5">LPC0.1</text>
<rect x="1602.6" y="3349.4" width="53" height="27.2"/>
<rect x="1607.9" y="3354.7" width="42.4" height="16.6" class="f2"/>
<text x="1683" y="3377.3">LPC0.25</text>
<rect x="1602.6" y="3415.2" width="53" height="27.2"/>
<rect x="1607.9" y="3420.5" width="42.4" height="16.6" class="f3"/>
<text x="1683" y="3443.1">LPC0.5</text>
</g>
</g>
</svg>
</body>
</html>
